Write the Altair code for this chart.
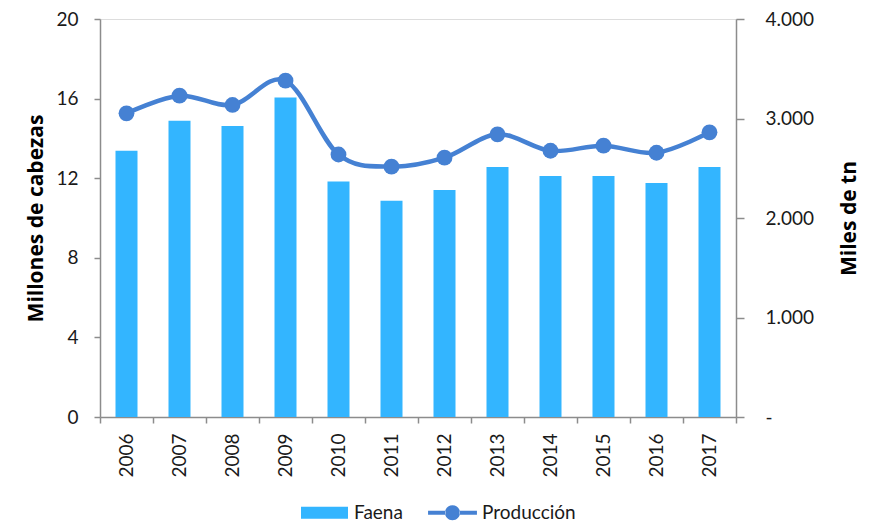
import altair as alt
import pandas as pd

years = [str(y) for y in range(2006, 2018)]
faena = [13.38, 14.89, 14.62, 16.05, 11.83, 10.87, 11.41, 12.56, 12.11, 12.11, 11.76, 12.56]
produccion = [3052, 3229, 3136, 3380, 2638, 2516, 2606, 2841, 2676, 2727, 2656, 2861]
series = ["Faena", "Producción"]
left_ticks = [0, 4, 8, 12, 16, 20]
right_ticks = [0, 1000, 2000, 3000, 4000]

BAR = "#33b5ff"
LINE = "#4581d3"
GREY = "#8c8c8c"
TXT = "#1a1a1a"
FONT = "Lato"
TFONT = "Open Sans"

df = pd.DataFrame({"year": years, "faena": faena, "produccion": produccion})
leg = pd.DataFrame({"serie": series})

rect_path = "M-1,-0.26 L1,-0.26 L1,0.26 L-1,0.26 Z"
line_path = ("M-1.04,-0.085 L-0.3,-0.085 L-0.3,0.085 L-1.04,0.085 Z "
             "M0.3,-0.085 L1.04,-0.085 L1.04,0.085 L0.3,0.085 Z "
             "M-0.32,0 A0.32,0.32 0 1 0 0.32,0 A0.32,0.32 0 1 0 -0.32,0 Z")

x = alt.X(
    "year:N",
    sort=years,
    scale=alt.Scale(paddingInner=0, paddingOuter=0),
    axis=alt.Axis(
        title=None, labelAngle=-90, tickBand="extent", tickSize=6,
        labelPadding=10, labelFontSize=19, labelColor=TXT, labelFont=FONT,
        domainColor=GREY, tickColor=GREY, domainWidth=1.5, tickWidth=1.5,
    ),
)

bars = alt.Chart(df).mark_bar(size=22, color=BAR).encode(
    x=x,
    y=alt.Y(
        "faena:Q",
        scale=alt.Scale(domain=[0, 20], nice=False),
        axis=alt.Axis(
            title="Millones  de  cabezas", values=left_ticks, grid=False,
            tickSize=6, labelPadding=16, labelFontSize=19, labelColor=TXT,
            labelFont=FONT, titleFont=TFONT, titleFontSize=21,
            titleFontWeight="bold", titleColor="#000000", titlePadding=9,
            domainColor=GREY, tickColor=GREY, domainWidth=1.5, tickWidth=1.5,
        ),
    ),
)

line = alt.Chart(df).mark_line(
    color=LINE, strokeWidth=4.5, interpolate="cardinal",
    point=alt.OverlayMarkDef(filled=True, size=250, color=LINE, opacity=1),
).encode(
    x=x,
    y=alt.Y(
        "produccion:Q",
        scale=alt.Scale(domain=[0, 4000], nice=False),
        axis=alt.Axis(
            orient="right", title="Miles de tn", values=right_ticks, grid=False,
            labelExpr="datum.value == 0 ? '-' : replace(format(datum.value, ','), ',', '.')",
            tickSize=8, labelPadding=21, labelFontSize=19, labelColor=TXT,
            labelFont=FONT, titleFont=TFONT, titleFontSize=21,
            titleFontWeight="bold", titleColor="#000000", titlePadding=46,
            titleAngle=270,
            domainColor=GREY, tickColor=GREY, domainWidth=1.5, tickWidth=1.5,
        ),
    ),
)

legend_def = alt.Legend(
    title=None, orient="none", legendX=201, legendY=470, direction="horizontal",
    symbolSize=2209, symbolStrokeWidth=0, symbolOpacity=1, labelOffset=6,
    columnPadding=25, labelFontSize=19, labelFont=FONT, labelColor=TXT, padding=0,
)

legend_layer = alt.Chart(leg).mark_point(filled=True, opacity=0).encode(
    shape=alt.Shape("serie:N", scale=alt.Scale(domain=series, range=[rect_path, line_path]),
                    legend=legend_def),
    color=alt.Color("serie:N", scale=alt.Scale(domain=series, range=[BAR, LINE]),
                    legend=legend_def),
)

chart = (
    alt.layer(bars, line, legend_layer)
    .resolve_scale(y="independent")
    .properties(
        width=636, height=398,
        autosize=alt.AutoSizeParams(type="none"),
        padding={"left": 92, "top": 11, "right": 128, "bottom": 105},
    )
    .configure_view(stroke=None)
    .configure(font=FONT)
)

chart.save("out.html", embed_options={"renderer": "svg", "actions": False})
